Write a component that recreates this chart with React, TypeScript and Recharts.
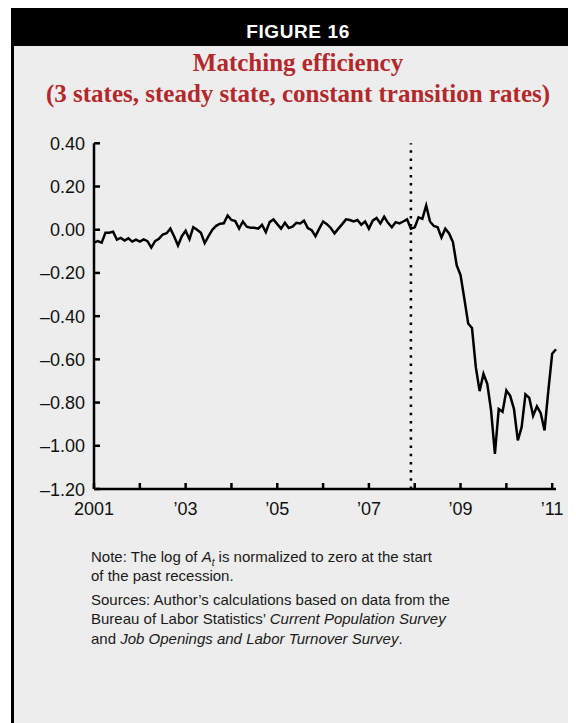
import React from "react";
import { LineChart, Line, XAxis, YAxis, ReferenceLine } from "recharts";

// x labels, one per January (Jan 2001 = month 0)
const yearLabels = ["2001", "", "’03", "", "’05", "", "’07", "", "’09", "", "’11"];
const yTicks = [0.4, 0.2, 0, -0.2, -0.4, -0.6, -0.8, -1.0, -1.2];
const recessionStart = 83; // Dec 2007

// log of A_t, monthly
const values2001to2004 = [
  -0.06, -0.053, -0.06, -0.014, -0.014, -0.009, -0.046, -0.038, -0.05, -0.04,
  -0.055, -0.046, -0.055, -0.045, -0.053, -0.083, -0.053, -0.042, -0.022, -0.016,
  0.005, -0.031, -0.073, -0.03, -0.005, -0.044, 0.012, 0.0, -0.014, -0.062,
  -0.03, 0.0, 0.018, 0.028, 0.03, 0.066, 0.045, 0.04, 0.005, 0.038, 0.014,
];
const values2004to2007 = [
  0.009, 0.009, 0.005, 0.023, -0.011, 0.035, 0.048, 0.026, 0.005, 0.032,
  0.008, 0.014, 0.032, 0.029, 0.042, 0.008, -0.002, -0.03, 0.005, 0.038,
  0.026, 0.008, -0.017, 0.005, 0.026, 0.048, 0.045, 0.038, 0.045, 0.023,
  0.038, 0.005, 0.042, 0.054, 0.029, 0.06, 0.032, 0.011, 0.035, 0.029,
  0.038, 0.048, 0.005,
];
const values2008to2009 = [
  0.011, 0.057, 0.05, 0.112, 0.038, 0.017, 0.011, -0.036, 0.005, -0.017,
  -0.057, -0.165, -0.21, -0.32, -0.434, -0.455,
];
const values2009to2011 = [
  -0.636, -0.747, -0.667, -0.713, -0.837, -1.037, -0.83, -0.843, -0.744, -0.769,
  -0.83, -0.975, -0.914, -0.762, -0.778, -0.861, -0.818, -0.849, -0.929, -0.744,
  -0.574, -0.553,
];

const data = [
  ...values2001to2004,
  ...values2004to2007,
  ...values2008to2009,
  ...values2009to2011,
].map((v, i) => ({ month: i, value: v }));
const xTicks = yearLabels.map((_, i) => i * 12);

const sans = "'Liberation Sans', Arial, Helvetica, sans-serif";

const YTick = (props: any) => {
  const { x, y, payload } = props;
  const v = payload.value;
  const label = v < -0.001 ? "–" + Math.abs(v).toFixed(2) : Math.abs(v).toFixed(2);
  return (
    <g>
      <line x1={x + 9} x2={x + 15} y1={y} y2={y} stroke="#000" strokeWidth={2.5} />
      <text x={x} y={y} dy={6.5} textAnchor="end" fontSize={18} fill="#111" fontFamily={sans}>
        {label}
      </text>
    </g>
  );
};

const XTick = (props: any) => {
  const { x, y, payload } = props;
  const label = yearLabels[Math.round(payload.value / 12)];
  return (
    <g>
      <line x1={x} x2={x} y1={y} y2={y - 6} stroke="#000" strokeWidth={2.5} />
      <text x={x} y={y + 26} textAnchor="middle" fontSize={18} fill="#111" fontFamily={sans}>
        {label}
      </text>
    </g>
  );
};

export default function App() {
  return (
    <div style={{ position: "relative", width: 568, height: 715, overflow: "hidden", background: "#fff" }}>
      <div
        style={{
          position: "absolute",
          left: 3,
          top: 0,
          width: 590,
          bottom: 0,
          background: "#ededed",
          borderLeft: "3px solid #000",
        }}
      />
      <div
        style={{
          position: "absolute",
          left: 3,
          top: 0,
          width: 590,
          height: 38,
          background: "#000",
        }}
      />
      <div
        style={{
          position: "absolute",
          left: 0,
          top: 8,
          width: 580,
          lineHeight: "31px",
          textAlign: "center",
          color: "#fff",
          fontFamily: sans,
          fontWeight: 900,
          fontSize: 19,
          letterSpacing: 0.6,
        }}
      >
        FIGURE 16
      </div>
      <div
        style={{
          position: "absolute",
          left: 0,
          top: 39,
          width: 580,
          textAlign: "center",
          color: "#b3282a",
          fontFamily: "'Liberation Serif', 'Times New Roman', serif",
          fontWeight: 700,
          fontSize: 25,
          lineHeight: "31px",
        }}
      >
        <div>Matching efficiency</div>
        <div>(3 states, steady state, constant transition rates)</div>
      </div>

      <div style={{ position: "absolute", left: 0, top: 112 }}>
        <LineChart width={560} height={410} data={data} margin={{ top: 23.3, right: 12, bottom: 11, left: 0 }}>
          <XAxis
            dataKey="month"
            type="number"
            domain={[0, 121]}
            ticks={xTicks}
            interval={0}
            tickSize={0}
            tickMargin={0}
            height={30}
            axisLine={{ stroke: "#000", strokeWidth: 2.5 }}
            tickLine={false}
            tick={<XTick />}
          />
          <YAxis
            type="number"
            domain={[-1.2, 0.4]}
            ticks={yTicks}
            interval={0}
            width={86}
            tickSize={0}
            tickMargin={9}
            axisLine={{ stroke: "#000", strokeWidth: 2.5 }}
            tickLine={false}
            tick={<YTick />}
          />
          <ReferenceLine x={recessionStart} stroke="#000" strokeWidth={2.5} strokeDasharray="2.5 5.7" />
          <Line
            type="linear"
            dataKey="value"
            stroke="#000"
            strokeWidth={2.5}
            dot={false}
            isAnimationActive={false}
          />
        </LineChart>
      </div>

      <div
        style={{
          position: "absolute",
          left: 83,
          top: 538.5,
          fontFamily: sans,
          fontSize: 15,
          lineHeight: "19.5px",
          color: "#1a1a1a",
          whiteSpace: "nowrap",
        }}
      >
        <div>
          Note: The log of <i>A</i>
          <sub style={{ fontSize: 10, fontStyle: "italic", lineHeight: 0 }}>t</sub> is normalized to zero at the start
          <br />
          of the past recession.
        </div>
        <div style={{ marginTop: 4 }}>
          Sources: Author’s calculations based on data from the
          <br />
          Bureau of Labor Statistics’ <i>Current Population Survey</i>
          <br />
          and <i>Job Openings and Labor Turnover Survey</i>.
        </div>
      </div>
    </div>
  );
}
